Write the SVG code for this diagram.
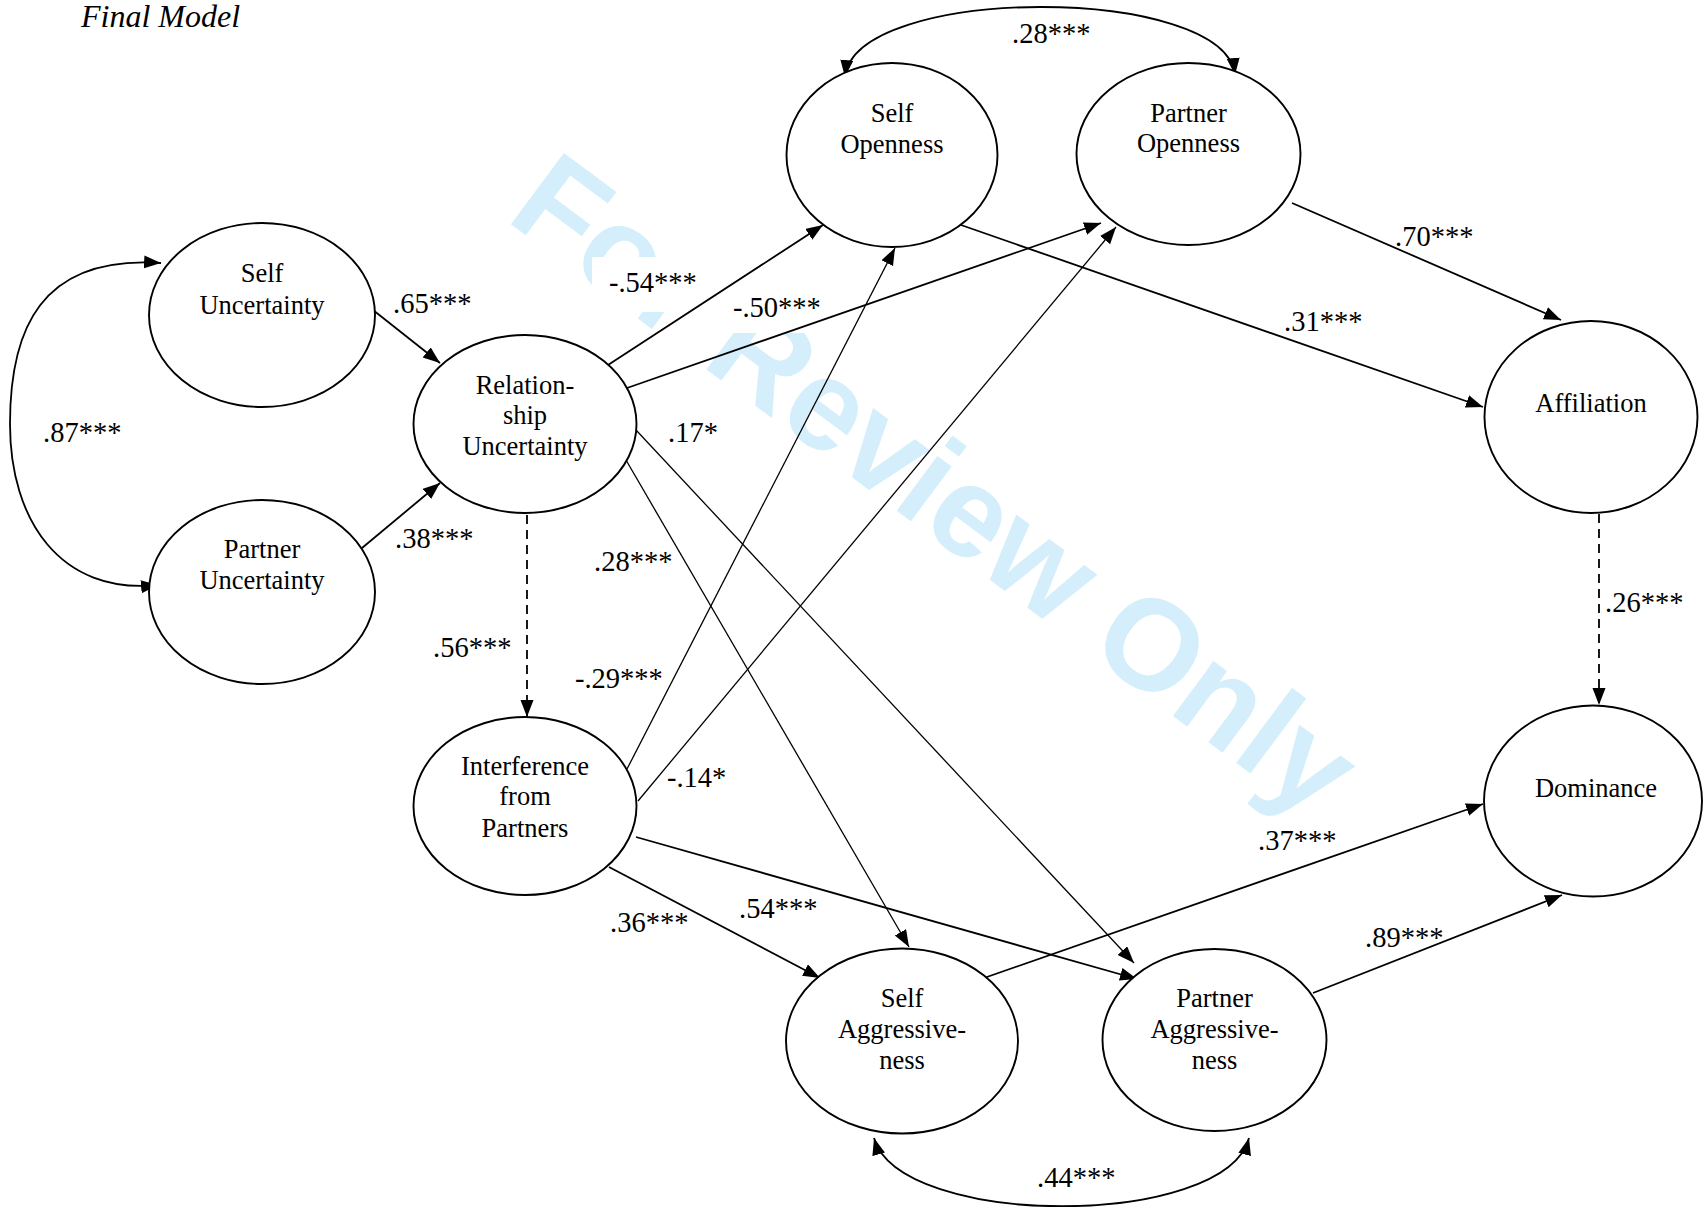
<svg xmlns="http://www.w3.org/2000/svg" width="1703" height="1207" viewBox="0 0 1703 1207">
<style>
.node ellipse{fill:#fff;stroke:#000;stroke-width:1.9}
.node text,.lbl{font-family:"Liberation Serif","Times New Roman",serif;fill:#000}
.node text{font-size:26.5px;text-anchor:middle}
.lbl{font-size:28.5px}
.c{fill:none;stroke:#000;stroke-width:1.8;marker-end:url(#ah)}
.t{stroke-width:1.3}
.d{stroke-dasharray:9 6}
.b{marker-start:url(#ah)}
.title{font-family:"Liberation Serif","Times New Roman",serif;font-style:italic;font-size:32px}
.wm{font-family:"Liberation Sans",Arial,sans-serif;font-weight:bold;font-size:129px;fill:#d4effb}
</style>
<defs>
<marker id="ah" markerUnits="userSpaceOnUse" markerWidth="18" markerHeight="14" refX="17" refY="6.5" orient="auto-start-reverse">
<path d="M0,0 L17,6.5 L0,13 z" fill="#000"/>
</marker>
</defs>
<rect width="1703" height="1207" fill="#fff"/>
<text class="wm" x="504" y="219" transform="rotate(36.6 504 219)">For Review Only</text>
<g id="label-boxes" fill="#fff">
<rect x="592" y="257" width="120" height="55"/>
<rect x="717" y="282" width="120" height="51"/>
</g>
<text class="title" x="81" y="27">Final Model</text>
<g id="connectors">
<path class="c" d="M373,310 L440,363"/>
<path class="c" d="M362,548 L440,483"/>
<path class="c d" d="M527,515 L527,717"/>
<path class="c" d="M608,365 L823,225"/>
<path class="c" d="M627,388 L1101,223"/>
<path class="c t" d="M626,460 L909,947"/>
<path class="c t" d="M636,430 L1134,963"/>
<path class="c t" d="M627,769 L895,248"/>
<path class="c t" d="M638,801 L1116,227"/>
<path class="c" d="M609,867 L820,978"/>
<path class="c" d="M636,837 L1137,979"/>
<path class="c" d="M961,225 L1483,407"/>
<path class="c" d="M1292,203 L1561,320"/>
<path class="c d" d="M1599,514 L1599,705"/>
<path class="c" d="M984,978 L1483,804"/>
<path class="c" d="M1313,993 L1562,895"/>
<path class="c b" d="M161,263 C40,255 10,330 10,424 C10,520 60,595 158,585"/>
<path class="c b" d="M845,77 C855,-16 1225,-16 1235,75"/>
<path class="c b" d="M874,1138 C900,1229 1225,1229 1249,1138"/>
</g>
<g id="labels">
<text class="lbl" x="393" y="313">.65***</text>
<text class="lbl" x="395" y="548">.38***</text>
<text class="lbl" x="43" y="442">.87***</text>
<text class="lbl" x="433" y="657">.56***</text>
<text class="lbl" x="609" y="292">-.54***</text>
<text class="lbl" x="733" y="317">-.50***</text>
<text class="lbl" x="668" y="442">.17*</text>
<text class="lbl" x="594" y="571">.28***</text>
<text class="lbl" x="575" y="688">-.29***</text>
<text class="lbl" x="667" y="787">-.14*</text>
<text class="lbl" x="610" y="932">.36***</text>
<text class="lbl" x="739" y="918">.54***</text>
<text class="lbl" x="1012" y="43">.28***</text>
<text class="lbl" x="1395" y="246">.70***</text>
<text class="lbl" x="1284" y="331">.31***</text>
<text class="lbl" x="1605" y="612">.26***</text>
<text class="lbl" x="1258" y="850">.37***</text>
<text class="lbl" x="1365" y="947">.89***</text>
<text class="lbl" x="1037" y="1187">.44***</text>
</g>
<g id="self-uncertainty" class="node"><ellipse cx="262" cy="315" rx="113" ry="92"/><text x="262" y="282">Self</text><text x="262" y="314">Uncertainty</text></g>
<g id="partner-uncertainty" class="node"><ellipse cx="262" cy="592" rx="113" ry="92"/><text x="262" y="558">Partner</text><text x="262" y="589">Uncertainty</text></g>
<g id="relationship-uncertainty" class="node"><ellipse cx="525" cy="424" rx="111.5" ry="89"/><text x="525" y="394">Relation-</text><text x="525" y="424">ship</text><text x="525" y="455">Uncertainty</text></g>
<g id="interference" class="node"><ellipse cx="525" cy="806" rx="111.5" ry="89"/><text x="525" y="775">Interference</text><text x="525" y="805">from</text><text x="525" y="837">Partners</text></g>
<g id="self-openness" class="node"><ellipse cx="892" cy="155" rx="105.5" ry="92"/><text x="892" y="122">Self</text><text x="892" y="153">Openness</text></g>
<g id="partner-openness" class="node"><ellipse cx="1188.5" cy="154" rx="112" ry="91"/><text x="1188.5" y="122">Partner</text><text x="1188.5" y="152">Openness</text></g>
<g id="affiliation" class="node"><ellipse cx="1591" cy="417" rx="106.5" ry="96"/><text x="1591" y="412">Affiliation</text></g>
<g id="dominance" class="node"><ellipse cx="1593" cy="801" rx="109" ry="95.5"/><text x="1596" y="797">Dominance</text></g>
<g id="self-aggressiveness" class="node"><ellipse cx="902" cy="1041" rx="116" ry="92.5"/><text x="902" y="1007">Self</text><text x="902" y="1038">Aggressive-</text><text x="902" y="1069">ness</text></g>
<g id="partner-aggressiveness" class="node"><ellipse cx="1214.5" cy="1040" rx="112" ry="91"/><text x="1214.5" y="1007">Partner</text><text x="1214.5" y="1038">Aggressive-</text><text x="1214.5" y="1069">ness</text></g>
</svg>
